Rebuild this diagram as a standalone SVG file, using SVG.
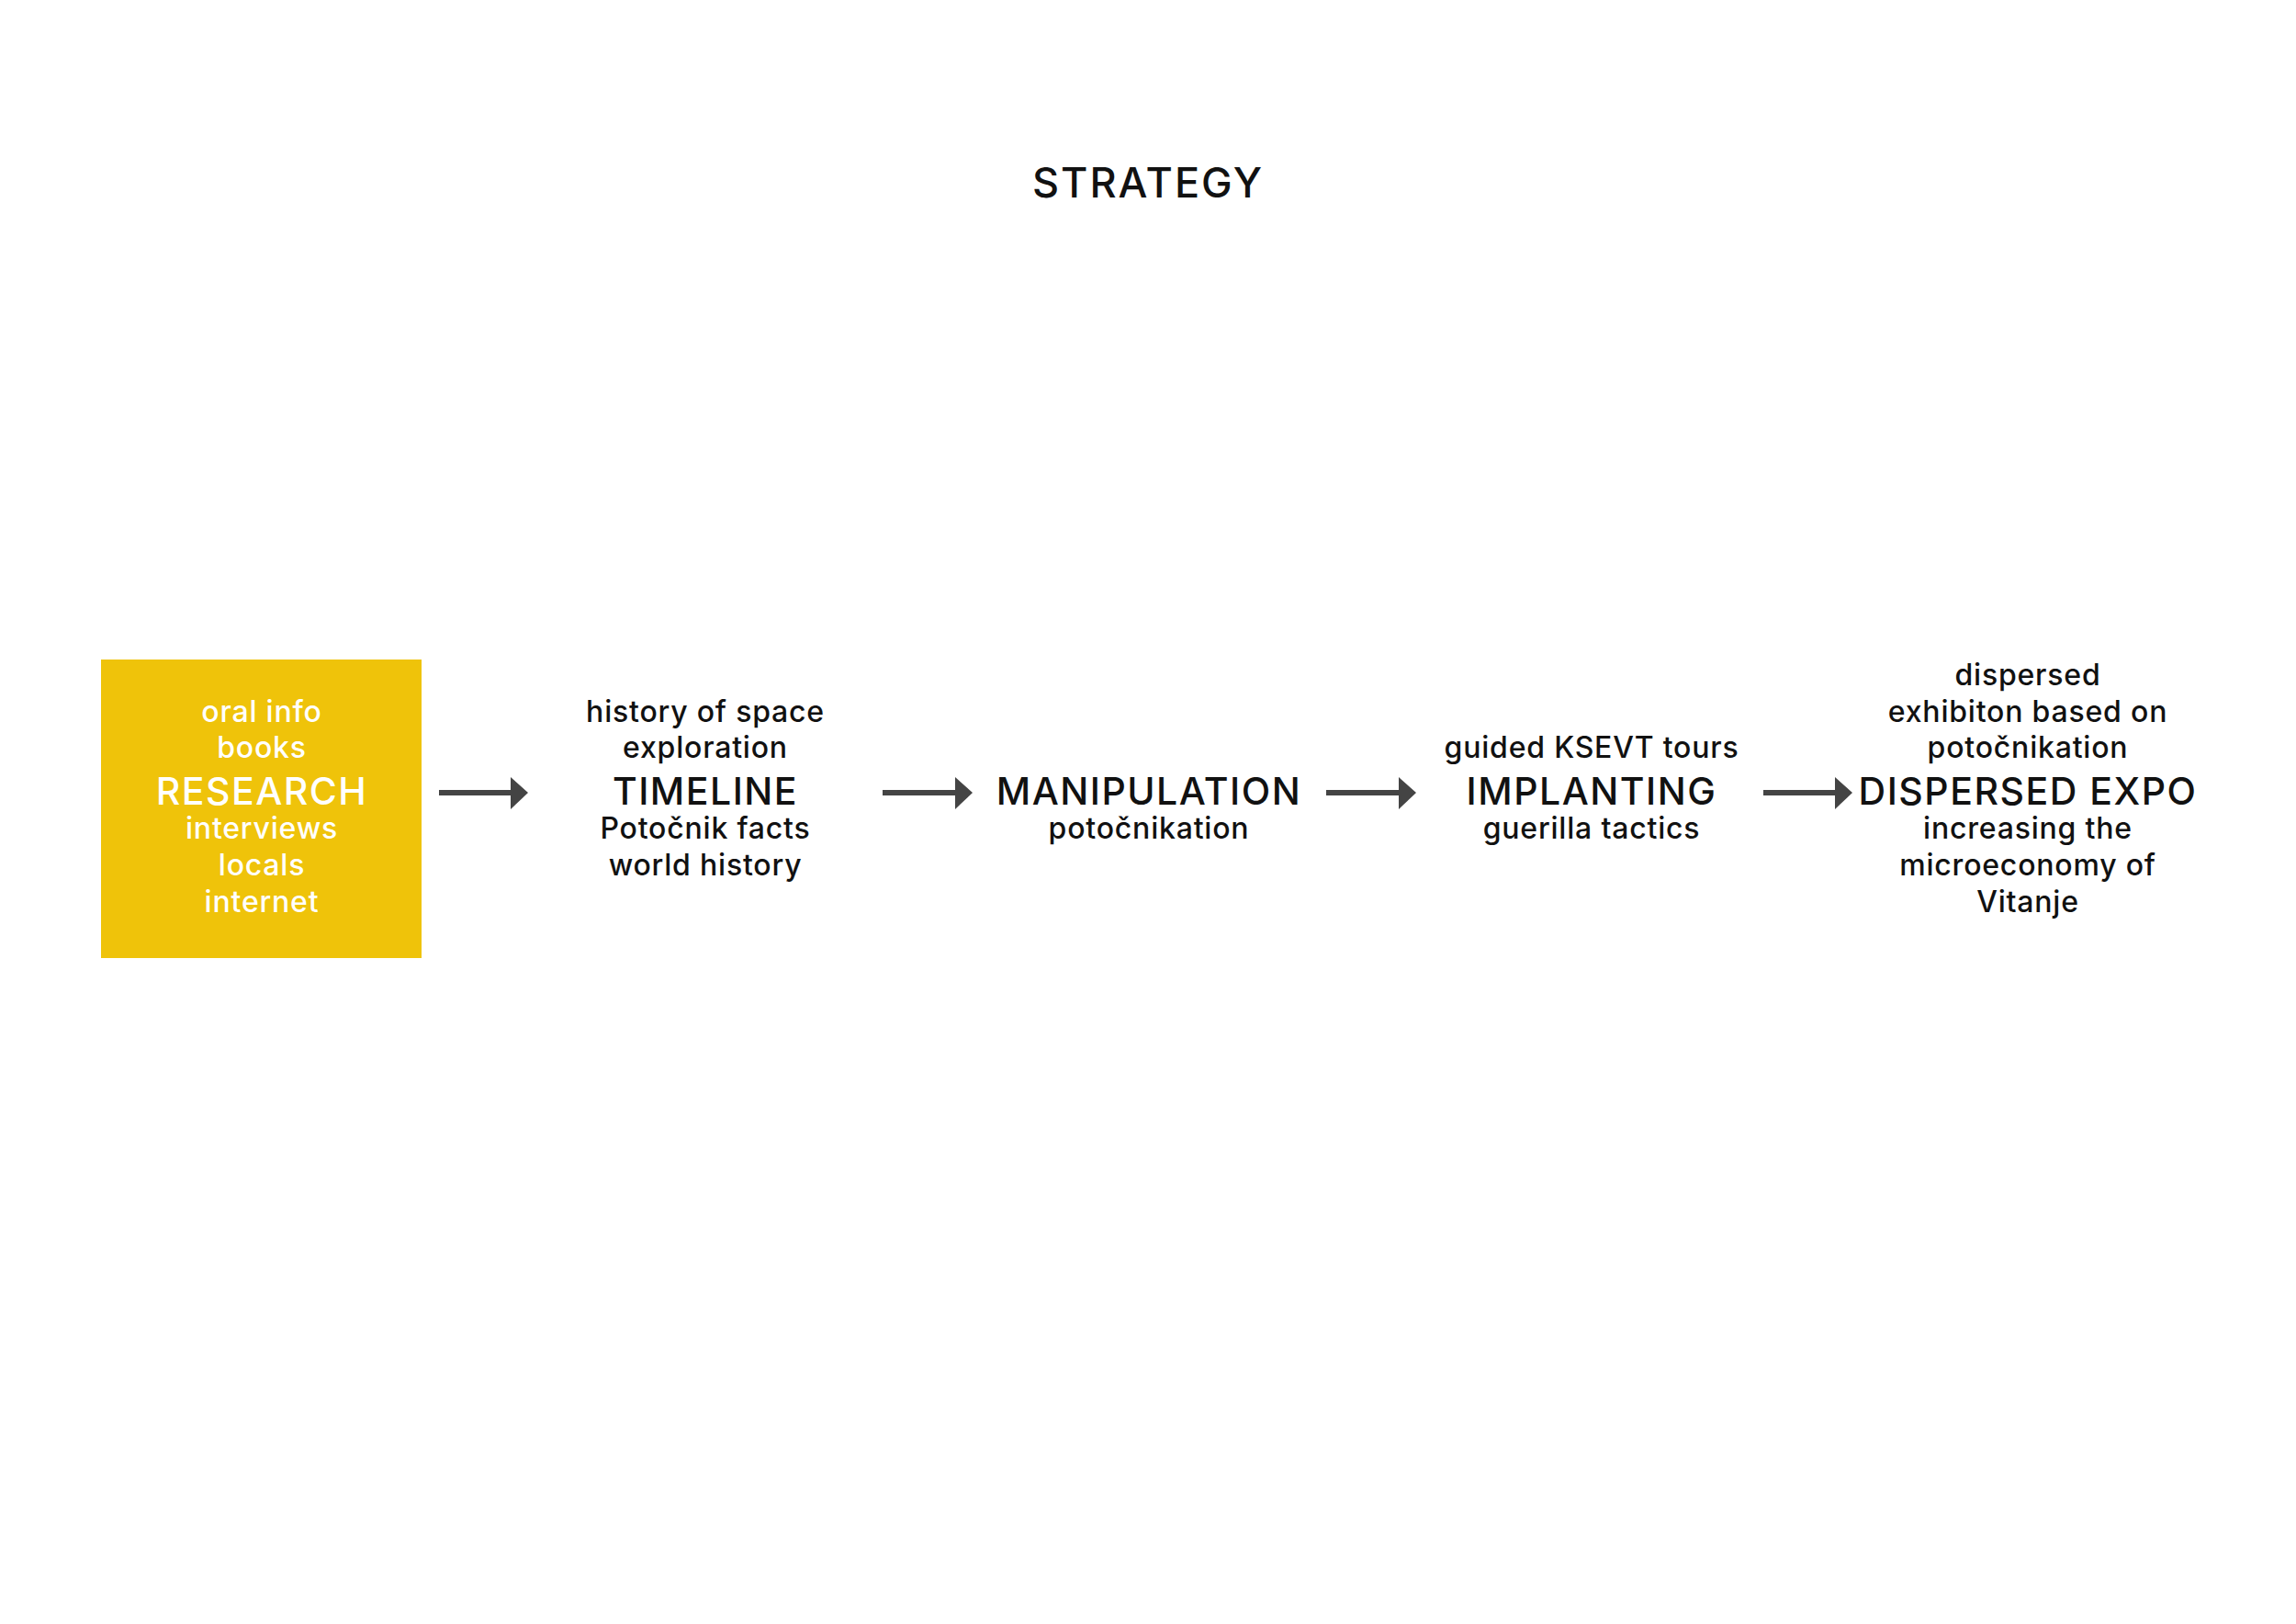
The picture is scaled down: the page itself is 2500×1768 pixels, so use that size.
<svg xmlns="http://www.w3.org/2000/svg" width="2500" height="1768" viewBox="0 0 2500 1768">
<defs>
<style>
text{font-family:"Inter","Open Sans","DejaVu Sans",sans-serif;text-anchor:middle;fill:#111;font-weight:500;}
.s{font-size:32px;letter-spacing:0.8px;}
.b{font-size:41px;letter-spacing:1.5px;}
.t{font-size:45px;font-weight:500;letter-spacing:2px;}
.w{fill:#fff;}
.arr{stroke:#444;stroke-width:6;fill:none;}
.ah{fill:#444;}
</style>
</defs>
<rect width="2500" height="1768" fill="#fff"/>
<text class="t" x="1250" y="215">STRATEGY</text>
<g id="research">
<rect x="110" y="718" width="349" height="325" fill="#EFC30A"/>
<text class="s w" x="285" y="786">oral info</text>
<text class="s w" x="285" y="825">books</text>
<text class="b w" x="285" y="876">RESEARCH</text>
<text class="s w" x="285" y="913">interviews</text>
<text class="s w" x="285" y="953">locals</text>
<text class="s w" x="285" y="993">internet</text>
</g>
<g id="timeline">
<text class="s" x="768" y="786">history of space</text>
<text class="s" x="768" y="825">exploration</text>
<text class="b" x="768" y="876">TIMELINE</text>
<text class="s" x="768" y="913">Potočnik facts</text>
<text class="s" x="768" y="953">world history</text>
</g>
<g id="manipulation">
<text class="b" x="1251" y="876">MANIPULATION</text>
<text class="s" x="1251" y="913">potočnikation</text>
</g>
<g id="implanting">
<text class="s" x="1733" y="825">guided KSEVT tours</text>
<text class="b" x="1733" y="876">IMPLANTING</text>
<text class="s" x="1733" y="913">guerilla tactics</text>
</g>
<g id="dispersed">
<text class="s" x="2208" y="746">dispersed</text>
<text class="s" x="2208" y="786">exhibiton based on</text>
<text class="s" x="2208" y="825">potočnikation</text>
<text class="b" x="2208" y="876">DISPERSED EXPO</text>
<text class="s" x="2208" y="913">increasing the</text>
<text class="s" x="2208" y="953">microeconomy of</text>
<text class="s" x="2208" y="993">Vitanje</text>
</g>
<g id="connectors">
<line class="arr" x1="478" y1="863" x2="558" y2="863"/><polygon class="ah" points="556,846 575,863 556,881"/>
<line class="arr" x1="961" y1="863" x2="1042" y2="863"/><polygon class="ah" points="1040,846 1059,863 1040,881"/>
<line class="arr" x1="1444" y1="863" x2="1525" y2="863"/><polygon class="ah" points="1523,846 1542,863 1523,881"/>
<line class="arr" x1="1920" y1="863" x2="2000" y2="863"/><polygon class="ah" points="1998,846 2017,863 1998,881"/>
</g>
</svg>
